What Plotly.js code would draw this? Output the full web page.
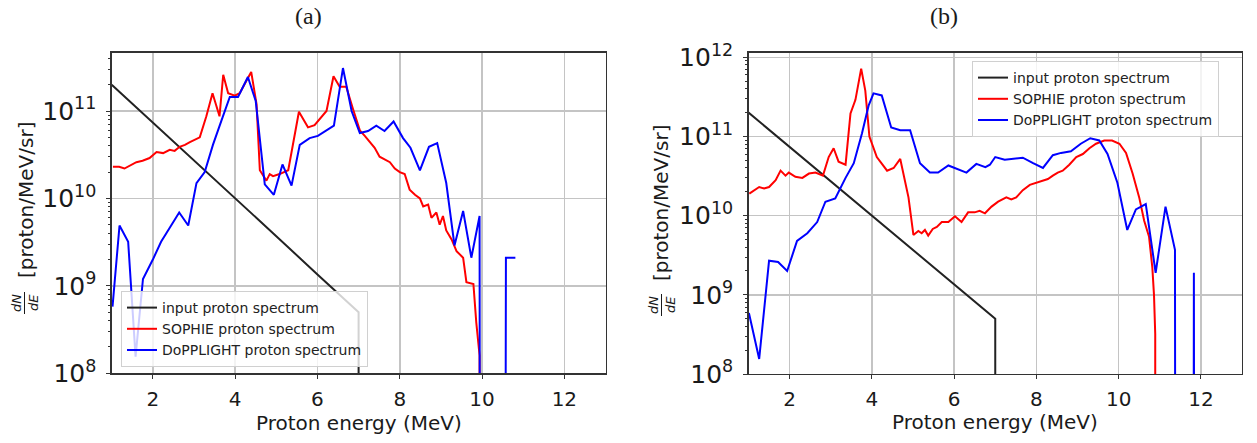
<!DOCTYPE html>
<html>
<head>
<meta charset="utf-8">
<script src="https://cdn.plot.ly/plotly-3.0.1.min.js"></script>
<style>html,body{margin:0;padding:0;background:#fff;}#chart{width:1257px;height:443px;}</style>
</head>
<body>
<div id="chart"></div>
<script>
// value used for empty (zero) bins, which fall off the log axis
const ZERO = 1e-100;

const seriesNames = ["input proton spectrum", "SOPHIE proton spectrum", "DoPPLIGHT proton spectrum"];
const panelTitles = ["(a)", "(b)"];
const xTitle = "Proton energy (MeV)";
const yTitleText = "[proton/MeV/sr]";

// input proton spectrum (same in both panels)
const inputE    = [1.0, 2.0, 3.0, 4.0, 5.0, 6.0, 7.0, 7.0];
const inputFlux = [2.0e11, 7.4e10, 2.7e10, 1.0e10, 3.7e9, 1.35e9, 5.0e8, ZERO];

// panel (a)
const sophieA_E = [1.03, 1.18, 1.31, 1.45, 1.6, 1.75, 1.92, 2.09, 2.25, 2.41, 2.53, 2.65, 2.78, 2.9, 3.02, 3.14, 3.30, 3.45, 3.62, 3.71, 3.83, 3.99, 4.11, 4.27, 4.39, 4.52, 4.6, 4.76, 4.84, 4.92, 5.08, 5.29, 5.41, 5.55, 5.77, 5.93, 6.22, 6.39, 6.54, 6.70, 6.86, 7.03, 7.15, 7.27, 7.39, 7.51, 7.63, 7.76, 7.88, 8.0, 8.12, 8.24, 8.37, 8.49, 8.57, 8.69, 8.77, 8.89, 8.97, 9.05, 9.13, 9.26, 9.38, 9.46, 9.54, 9.62, 9.79, 9.86, 9.94, 10.02];
const sophieA   = [2.3e10, 2.3e10, 2.2e10, 2.4e10, 2.6e10, 2.7e10, 2.9e10, 3.4e10, 3.3e10, 3.6e10, 3.5e10, 3.9e10, 4.1e10, 4.4e10, 4.7e10, 5.0e10, 8.7e10, 1.6e11, 8.7e10, 2.6e11, 1.6e11, 1.5e11, 1.6e11, 2.2e11, 2.8e11, 1.2e11, 2.1e10, 1.6e10, 1.9e10, 1.8e10, 1.9e10, 2.1e10, 4.3e10, 9.8e10, 6.5e10, 6.9e10, 1.0e11, 2.5e11, 1.9e11, 1.9e11, 1.07e11, 6.0e10, 5.2e10, 4.5e10, 3.8e10, 3.0e10, 2.8e10, 2.6e10, 2.2e10, 2.0e10, 1.9e10, 1.26e10, 1.1e10, 1.0e10, 8.1e9, 8.5e9, 6.0e9, 6.9e9, 5.0e9, 6.3e9, 4.3e9, 3.4e9, 2.5e9, 2.3e9, 2.1e9, 1.1e9, 1.05e9, 3.8e8, 1.6e8, ZERO];

const doppA_E = [1.02, 1.19, 1.40, 1.50, 1.58, 1.76, 2.0, 2.2, 2.41, 2.64, 2.86, 3.06, 3.26, 3.46, 3.66, 3.87, 4.07, 4.31, 4.50, 4.72, 4.94, 5.15, 5.37, 5.57, 5.81, 6.01, 6.40, 6.62, 6.83, 7.03, 7.23, 7.43, 7.63, 7.85, 8.08, 8.26, 8.49, 8.71, 8.91, 9.13, 9.33, 9.54, 9.74, 9.94, 10.15, 10.37, 10.58, 10.81];
const doppA   = [5.8e8, 4.9e9, 3.2e9, 6.6e8, 1.55e8, 1.2e9, 2.0e9, 3.2e9, 4.7e9, 6.9e9, 4.9e9, 1.5e10, 2.0e10, 4.1e10, 7.6e10, 1.45e11, 1.45e11, 2.45e11, 1.3e11, 1.45e10, 1.1e10, 2.45e10, 1.4e10, 4.1e10, 4.9e10, 5.2e10, 6.8e10, 3.1e11, 1.0e11, 5.6e10, 5.9e10, 6.8e10, 5.9e10, 7.6e10, 4.9e10, 3.8e10, 2.1e10, 3.9e10, 4.3e10, 1.5e10, 2.9e9, 7.2e9, 2.1e9, 6.3e9, ZERO, ZERO, 2.1e9, 2.1e9];

// panel (b)
const sophieB_E = [1.02, 1.14, 1.26, 1.38, 1.50, 1.66, 1.78, 1.90, 1.98, 2.14, 2.31, 2.47, 2.63, 2.81, 2.95, 3.07, 3.19, 3.36, 3.48, 3.60, 3.74, 3.84, 3.94, 4.12, 4.37, 4.53, 4.69, 4.89, 5.01, 5.13, 5.21, 5.29, 5.37, 5.48, 5.58, 5.70, 5.86, 6.02, 6.18, 6.34, 6.50, 6.62, 6.75, 6.91, 7.07, 7.27, 7.39, 7.51, 7.67, 7.84, 8.0, 8.16, 8.28, 8.40, 8.52, 8.64, 8.80, 8.97, 9.13, 9.29, 9.45, 9.65, 9.84, 10.02, 10.18, 10.34, 10.50, 10.62, 10.74, 10.82, 10.86, 10.89, 10.92];
const sophieB   = [1.9e10, 2.1e10, 2.3e10, 2.2e10, 2.3e10, 2.8e10, 3.7e10, 3.2e10, 3.5e10, 3.1e10, 3.0e10, 3.4e10, 3.5e10, 3.2e10, 5.5e10, 7.1e10, 4.8e10, 4.4e10, 1.95e11, 2.9e11, 7.2e11, 3.8e11, 1.0e11, 5.5e10, 3.7e10, 4.0e10, 5.2e10, 1.7e10, 5.7e9, 6.4e9, 6.0e9, 6.6e9, 5.6e9, 6.8e9, 7.2e9, 8.3e9, 8.3e9, 9.8e9, 8.3e9, 1.1e10, 1.1e10, 1.15e10, 1.07e10, 1.3e10, 1.5e10, 1.7e10, 1.6e10, 1.7e10, 2.1e10, 2.45e10, 2.6e10, 2.8e10, 2.9e10, 3.2e10, 3.5e10, 3.7e10, 4.4e10, 5.5e10, 6.0e10, 7.1e10, 8.1e10, 8.9e10, 8.9e10, 8.1e10, 6.2e10, 3.4e10, 1.7e10, 8.7e9, 5.4e9, 2.2e9, 1.0e9, 3.2e8, ZERO];

const doppB_E = [1.01, 1.26, 1.50, 1.72, 1.94, 2.18, 2.43, 2.67, 2.87, 3.11, 3.36, 3.56, 3.76, 3.92, 4.04, 4.24, 4.47, 4.69, 4.93, 5.17, 5.41, 5.61, 5.86, 6.10, 6.30, 6.54, 6.76, 6.87, 7.0, 7.23, 7.67, 7.92, 8.16, 8.40, 8.60, 8.84, 9.08, 9.31, 9.53, 9.73, 9.97, 10.21, 10.42, 10.66, 10.90, 11.14, 11.37, 11.60, 11.83, 12.06];
const doppB   = [5.9e8, 1.55e8, 2.7e9, 2.6e9, 2.0e9, 4.8e9, 6.0e9, 8.3e9, 1.5e10, 1.65e10, 3.0e10, 4.6e10, 1.1e11, 2.45e11, 3.5e11, 3.3e11, 1.3e11, 1.2e11, 1.2e11, 4.6e10, 3.5e10, 3.5e10, 4.3e10, 3.8e10, 3.5e10, 4.5e10, 4.1e10, 4.4e10, 5.5e10, 5.1e10, 5.4e10, 4.6e10, 4.0e10, 5.8e10, 6.2e10, 6.5e10, 8.1e10, 9.5e10, 8.9e10, 6.0e10, 2.6e10, 6.6e9, 1.2e10, 1.4e10, 1.9e9, 1.3e10, 3.7e9, ZERO, 1.9e9, ZERO];

const colors = ["#222222", "#ff0000", "#0000ff"];

const W = 1257, H = 443;
const px = x => x / W;
const py = y => (H - y) / H;

function mk(x, y, i, xa, ya, leg) {
  return {x: x, y: y, type: "scatter", mode: "lines", name: seriesNames[i],
          xaxis: xa, yaxis: ya, legend: leg,
          line: {color: colors[i], width: 2}};
}

const traces = [
  mk(inputE, inputFlux, 0, "x", "y", "legend"),
  mk(sophieA_E, sophieA, 1, "x", "y", "legend"),
  mk(doppA_E, doppA, 2, "x", "y", "legend"),
  mk(inputE, inputFlux, 0, "x2", "y2", "legend2"),
  mk(sophieB_E, sophieB, 1, "x2", "y2", "legend2"),
  mk(doppB_E, doppB, 2, "x2", "y2", "legend2")
];

const tickFont = {family: "DejaVu Sans", size: 20, color: "#1a1a1a"};
function xax(dom, anchor) {
  return {domain: dom, anchor: anchor, range: [1, 13], tick0: 0, dtick: 2,
          showgrid: true, gridcolor: "#c4c4c4", gridwidth: 1.5, zeroline: false,
          showline: true, mirror: true, linecolor: "#333", linewidth: 1.3,
          ticks: "outside", ticklen: 4, tickcolor: "#333", tickfont: tickFont,
          ticklabelstandoff: 3};
}
function yax(dom, anchor, top) {
  return {domain: dom, anchor: anchor, type: "log", range: [8, top], dtick: 1,
          exponentformat: "power", showexponent: "all",
          showgrid: true, gridcolor: "#c4c4c4", gridwidth: 1.5, zeroline: false,
          showline: true, mirror: true, linecolor: "#333", linewidth: 1.3,
          ticks: "outside", ticklen: 4, tickcolor: "#333", tickfont: tickFont,
          ticklabelstandoff: 6,
          minor: {ticks: "outside", ticklen: 2, tickcolor: "#333", showgrid: false}};
}
const legFont = {family: "DejaVu Sans", size: 14, color: "#222"};
function leg(x, y, ya) {
  return {x: x, y: y, xanchor: "left", yanchor: ya, bgcolor: "rgba(255,255,255,0.8)",
          bordercolor: "#d0d0d0", borderwidth: 1, font: legFont, traceorder: "normal"};
}

const ann = [];
const serif = {family: "Liberation Serif", size: 24, color: "#1a1a1a"};
ann.push({text: panelTitles[0], x: px(308), y: py(16), font: serif});
ann.push({text: panelTitles[1], x: px(944), y: py(16), font: serif});
const lab = {family: "DejaVu Sans", size: 20, color: "#1a1a1a"};
ann.push({text: xTitle, x: px(358.6), y: py(423), font: lab});
ann.push({text: xTitle, x: px(995), y: py(422), font: lab});
ann.push({text: yTitleText, x: px(26), y: py(200), font: lab, textangle: -90});
ann.push({text: yTitleText, x: px(661), y: py(203), font: lab, textangle: -90});
const frac = {family: "DejaVu Sans", size: 13, color: "#1a1a1a"};
ann.push({text: "<i>dN</i>", x: px(16), y: py(303), font: frac, textangle: -90});
ann.push({text: "<i>dE</i>", x: px(33), y: py(303), font: frac, textangle: -90});
ann.push({text: "<i>dN</i>", x: px(653), y: py(305), font: frac, textangle: -90});
ann.push({text: "<i>dE</i>", x: px(670), y: py(305), font: frac, textangle: -90});
ann.forEach(a => { a.xref = "paper"; a.yref = "paper"; a.showarrow = false;
  a.xanchor = "center"; a.yanchor = "middle"; });

const shapes = [
  {type: "line", xref: "paper", yref: "paper", x0: px(24.5), x1: px(24.5), y0: py(292), y1: py(314), line: {color: "#1a1a1a", width: 1}},
  {type: "line", xref: "paper", yref: "paper", x0: px(661.5), x1: px(661.5), y0: py(294), y1: py(316), line: {color: "#1a1a1a", width: 1}}
];

const layout = {
  width: W, height: H, margin: {l: 0, r: 0, t: 0, b: 0},
  paper_bgcolor: "#fff", plot_bgcolor: "#fff",
  showlegend: true,
  xaxis: xax([px(111.7), px(605.5)], "y"),
  yaxis: yax([py(373.3), py(52.7)], "x", 11.667),
  xaxis2: xax([px(748.5), px(1242)], "y2"),
  yaxis2: yax([py(374), py(52.7)], "x2", 12.058),
  legend: leg(px(121), py(367), "bottom"),
  legend2: leg(px(972), py(61), "top"),
  annotations: ann,
  shapes: shapes
};

Plotly.newPlot("chart", traces, layout, {staticPlot: true, displayModeBar: false});
</script>
</body>
</html>
